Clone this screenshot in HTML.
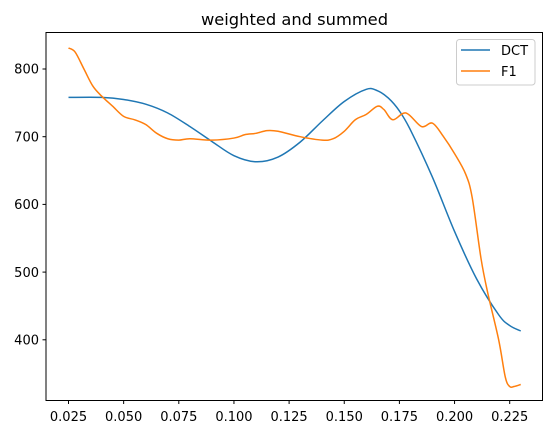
<!DOCTYPE html>
<html><head><meta charset="utf-8"><style>
body{margin:0;background:#fff;}
svg{display:block;font-family:"DejaVu Sans","Liberation Sans",sans-serif;}
</style></head><body>
<svg id="chart" width="552" height="435" viewBox="0 0 552 435">
<rect x="0" y="0" width="552" height="435" fill="#fff"/>
<text x="294.5" y="25" font-size="16.3" text-anchor="middle" fill="#000">weighted and summed</text>
<g id="plot"></g>
<rect x="46" y="32.5" width="496.5" height="368" fill="none" stroke="#000" stroke-width="1"/>
<g>
<rect x="456.5" y="39.5" width="78.5" height="45.5" rx="3" fill="#fff" fill-opacity="0.8" stroke="#ccc"/>
<g>
<line x1="461" y1="50" x2="490" y2="50" stroke="#1f77b4" stroke-width="1.5"/>
<text x="501" y="55" font-size="13" fill="#000">DCT</text></g>
<g>
<line x1="461" y1="71" x2="490" y2="71" stroke="#ff7f0e" stroke-width="1.5"/>
<text x="501" y="76" font-size="13" fill="#000">F1</text></g>
</g>
</svg>
<script>
const xTicks=[0.025,0.05,0.075,0.1,0.125,0.15,0.175,0.2,0.225];
const xTickLabels=["0.025","0.050","0.075","0.100","0.125","0.150","0.175","0.200","0.225"];
const yTicks=[400,500,600,700,800];
const dctX=[0.025,0.04,0.05,0.06,0.07,0.08,0.09,0.1,0.11,0.12,0.13,0.14,0.15,0.16,0.165,0.17,0.175,0.18,0.19,0.2,0.21,0.22,0.225,0.23];
const dctY=[758,758,755,748,735,715,693,672,663,670,692,723,752,770,768,757,738,710,640,560,490,437,421,413];
const f1X=[0.025,0.028,0.032,0.036,0.04,0.045,0.05,0.055,0.06,0.065,0.07,0.075,0.08,0.09,0.1,0.105,0.11,0.115,0.12,0.13,0.14,0.145,0.15,0.155,0.16,0.165,0.168,0.172,0.178,0.185,0.19,0.195,0.2,0.205,0.208,0.212,0.215,0.22,0.223,0.225,0.227,0.23];
const f1Y=[831,825,800,775,760,745,730,725,718,705,697,695,697,695,698,703,705,709,708,700,695,697,708,725,733,745,740,725,735,715,720,700,675,645,610,520,470,400,345,331,331,334];
const sx=v=>68.5+(v-0.025)/0.025*55.15;
const sy=v=>69-(v-800)*0.677;
const NS="http://www.w3.org/2000/svg";
const plot=document.getElementById('plot');
function mk(t,a,p){const e=document.createElementNS(NS,t);for(const k in a)e.setAttribute(k,a[k]);(p||plot).appendChild(e);return e;}
xTicks.forEach((v,i)=>{
 const t=mk('line',{x1:sx(v),x2:sx(v),y1:400.5,y2:404,stroke:'#000'});
 
 
 const l=mk('text',{x:sx(v),y:421,'font-size':13,'text-anchor':'middle'});
 l.textContent=xTickLabels[i];
 
 
});
yTicks.forEach(v=>{
 const t=mk('line',{x1:42.5,x2:46,y1:sy(v),y2:sy(v),stroke:'#000'});
 
 
 const l=mk('text',{x:39,y:sy(v)+4.7,'font-size':13,'text-anchor':'end'});
 l.textContent=String(v);
 
 
});
function line(xs,ys,c,name){
 const P=xs.map((x,i)=>[sx(x),sy(ys[i])]);
 let d='M'+P[0][0]+','+P[0][1];
 for(let i=0;i<P.length-1;i++){
  const p0=P[Math.max(0,i-1)],p1=P[i],p2=P[i+1],p3=P[Math.min(P.length-1,i+2)];
  const c1=[p1[0]+(p2[0]-p0[0])/6,p1[1]+(p2[1]-p0[1])/6];
  const c2=[p2[0]-(p3[0]-p1[0])/6,p2[1]-(p3[1]-p1[1])/6];
  d+=' C'+c1[0]+','+c1[1]+' '+c2[0]+','+c2[1]+' '+p2[0]+','+p2[1];
 }
 const p=mk('path',{d:d,fill:'none',stroke:c,'stroke-width':1.5,'stroke-linejoin':'round'});
 
 
}
line(dctX,dctY,'#1f77b4','dct-line');
line(f1X,f1Y,'#ff7f0e','f1-line');
</script>
</body></html>
